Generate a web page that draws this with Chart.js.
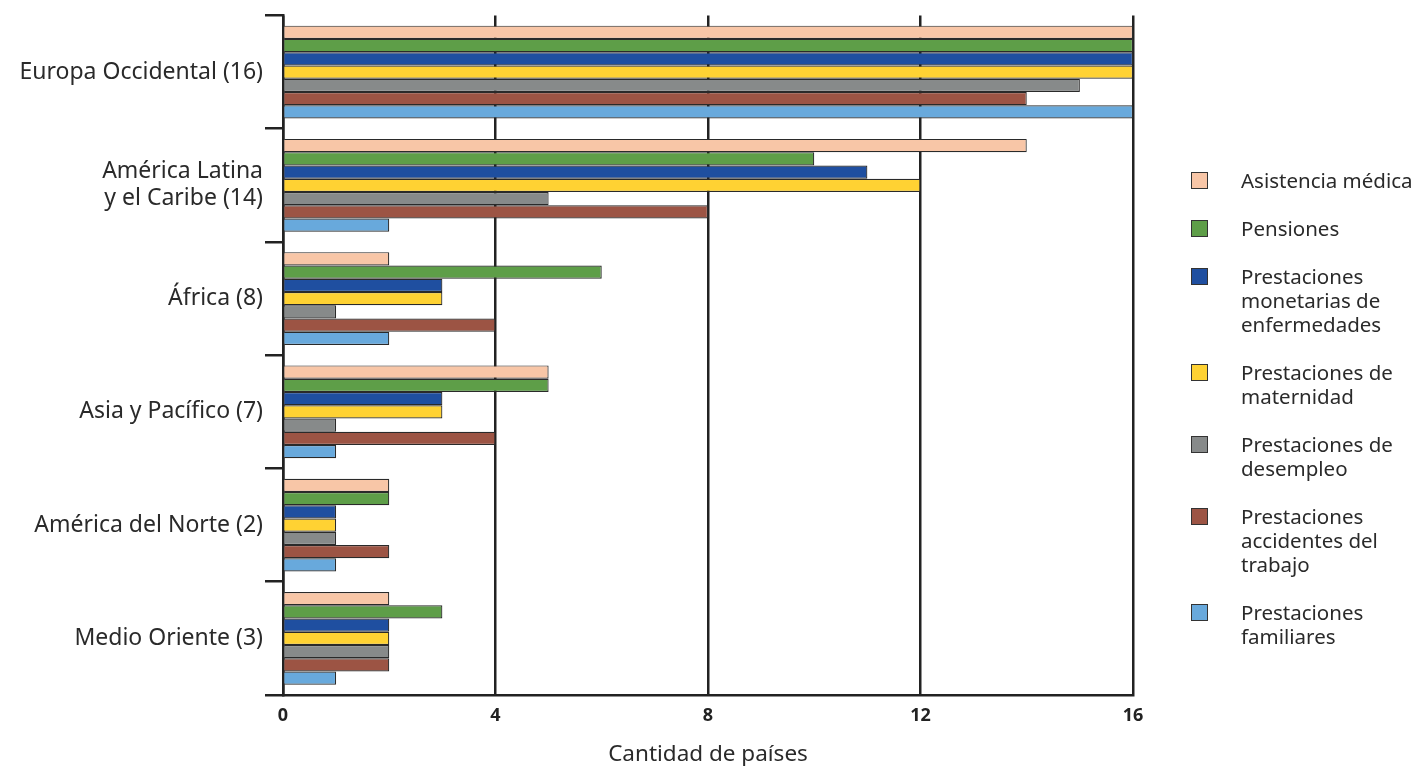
<!DOCTYPE html>
<html>
<head>
<meta charset="utf-8">
<script src="https://cdn.jsdelivr.net/npm/chart.js@4"></script>
<style>
  body { margin: 0; background: #fff; font-family: "Noto Sans", sans-serif; }
  #wrap { position: relative; width: 1414px; height: 769px; }
  #legend { position: absolute; left: 1191px; top: 168px; display: flex; flex-direction: column; gap: 24px; }
  .item { display: flex; align-items: flex-start; }
  .box { width: 15px; height: 15px; border: 1px solid #333; margin-top: 4px; margin-right: 33px; flex: none; }
  .txt { font-size: 20.5px; line-height: 24px; color: #2a2a2a; white-space: nowrap; }
</style>
</head>
<body>
<div id="wrap">
  <canvas id="myChart" width="1414" height="769"></canvas>
  <div id="legend"></div>
</div>
<script>
  const regions = ['Europa Occidental (16)', ['América Latina', 'y el Caribe (14)'], 'África (8)', 'Asia y Pacífico (7)', 'América del Norte (2)', 'Medio Oriente (3)'];
  const seriesNames = [
    ['Asistencia médica'],
    ['Pensiones'],
    ['Prestaciones', 'monetarias de', 'enfermedades'],
    ['Prestaciones de', 'maternidad'],
    ['Prestaciones de', 'desempleo'],
    ['Prestaciones', 'accidentes del', 'trabajo'],
    ['Prestaciones', 'familiares']
  ];
  const colors = ['#F8C6A7', '#5E9E48', '#1F4FA0', '#FFD233', '#878A8A', '#9C5444', '#68A9DC'];

  const asistencia = [16, 14, 2, 5, 2, 2];
  const pensiones = [16, 10, 6, 5, 2, 3];
  const enfermedad = [16, 11, 3, 3, 1, 2];
  const maternidad = [16, 12, 3, 3, 1, 2];
  const desempleo = [15, 5, 1, 1, 1, 2];
  const accidentes = [14, 8, 4, 4, 2, 2];
  const familiares = [16, 2, 2, 1, 1, 1];
  const xTicks = [0, 4, 8, 12, 16];

  const seriesData = [asistencia, pensiones, enfermedad, maternidad, desempleo, accidentes, familiares];

  const legend = document.getElementById('legend');
  seriesNames.forEach((lines, i) => {
    const item = document.createElement('div');
    item.className = 'item';
    item.innerHTML = '<div class="box" style="background:' + colors[i] + '"></div><div class="txt">' + lines.join('<br>') + '</div>';
    legend.appendChild(item);
  });

  const ctx = document.getElementById('myChart');

  new Chart(ctx, {
    type: 'bar',
    data: {
      labels: regions,
      datasets: seriesData.map((d, i) => ({
        label: seriesNames[i].join(' '),
        data: d,
        backgroundColor: colors[i],
        borderColor: '#2a2a2a',
        borderWidth: 1.2,
        categoryPercentage: 0.82,
        barPercentage: 1.0
      }))
    },
    options: {
      indexAxis: 'y',
      responsive: false,
      animation: false,
      layout: { padding: { top: 15, right: 281, bottom: 0, left: 0 } },
      plugins: { legend: { display: false }, tooltip: { enabled: false } },
      scales: {
        x: {
          min: 0,
          max: 16,
          afterBuildTicks: (scale) => { scale.ticks = xTicks.map(v => ({ value: v })); },
          afterFit: (scale) => { scale.height = 74; },
          grid: { color: '#222', lineWidth: 2.5, drawTicks: false },
          border: { color: '#222', width: 2.5 },
          ticks: { color: '#222', padding: 10, font: { family: 'Noto Sans', size: 18, weight: 'bold' } },
          title: { display: true, text: 'Cantidad de países', color: '#2a2a2a', padding: { top: 2, bottom: 1 }, font: { family: 'Noto Sans', size: 22.5 } }
        },
        y: {
          afterFit: (scale) => { scale.width = 283; },
          grid: { color: '#222', lineWidth: 2.5, drawOnChartArea: false, tickLength: 18, offset: true },
          border: { color: '#222', width: 2.5 },
          ticks: { color: '#2a2a2a', padding: 2, font: { family: 'Noto Sans', size: 23, lineHeight: 1.17 } }
        }
      }
    }
  });
</script>
</body>
</html>
